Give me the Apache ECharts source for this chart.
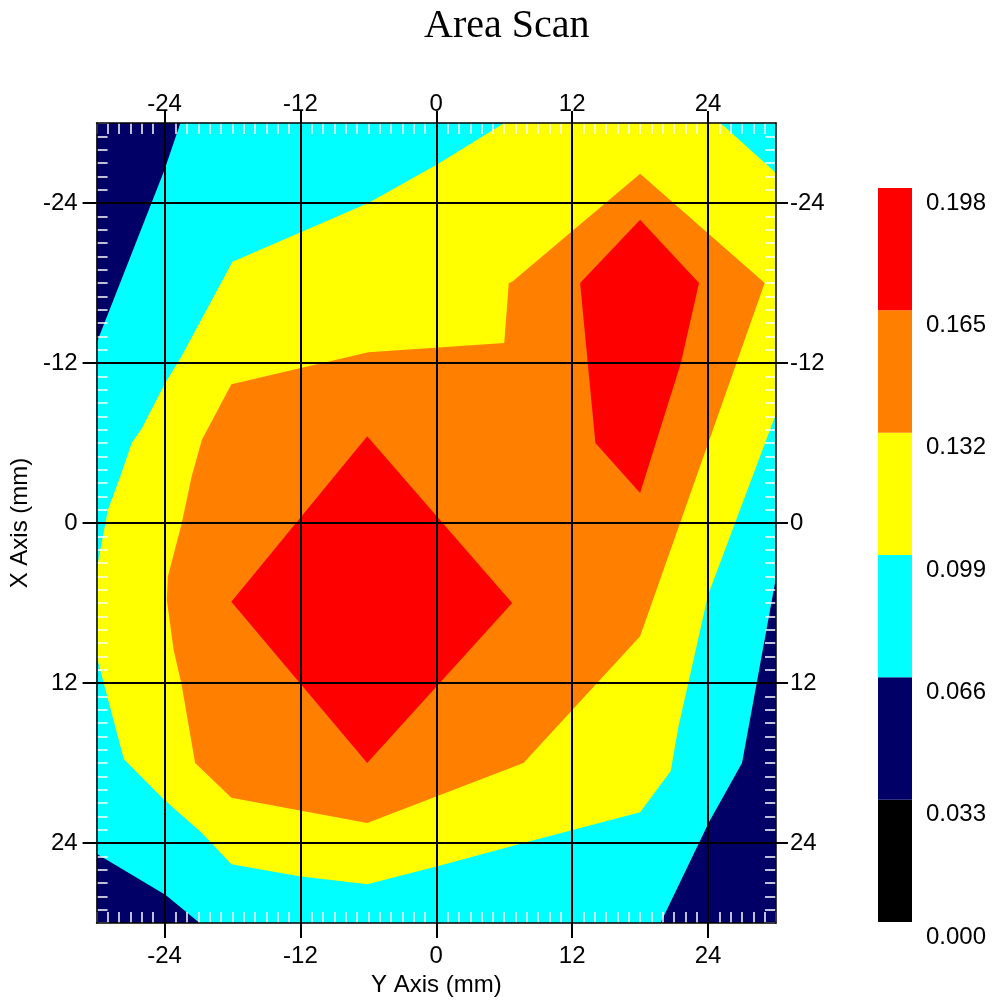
<!DOCTYPE html>
<html>
<head>
<meta charset="utf-8">
<script src="https://cdn.jsdelivr.net/npm/echarts@6/dist/echarts.min.js"></script>
<style>
html,body{margin:0;padding:0;background:#fff;}
#chart{width:995px;height:1005px;}
</style>
</head>
<body>
<div id="chart"></div>
<script>
// ---- data (mm, horizontal = Y axis, vertical = X axis) ----
const levels = [0, 0.033, 0.066, 0.099, 0.132, 0.165, 0.198];
const levelColors = ['#000000', '#000066', '#00ffff', '#ffff00', '#ff8000', '#ff0000'];
const axisTickValues = [-24, -12, 0, 12, 24];

// contour band boundaries, [Y mm, X mm]
const band033 = [[-30, -30], [30, -30], [30, 30], [-30, 30]];
const band066 = [[-22.6, -30], [30, -30], [30, 4.1], [27.0, 18.0], [24.1, 22.4], [19.8, 30],
  [-20.9, 30], [-23.9, 27.9], [-30, 24.8], [-30, -13.5], [-24.0, -26.5]];
const band099 = [[6.0, -30], [25.1, -30], [30, -26.25], [30, -8.2], [24.0, 5.4], [22.2, 12.2],
  [21.4, 15.2], [20.7, 18.6], [18.0, 21.7], [8.1, 23.9], [0.1, 25.75], [-6.1, 27.1], [-12.1, 26.5],
  [-18.1, 25.6], [-20.7, 23.25], [-24.1, 20.7], [-27.6, 17.7], [-30, 10.0], [-30, 3.5], [-29.0, -1.0],
  [-27.9, -3.5], [-26.9, -6.0], [-26.0, -7.1], [-24.0, -10.4], [-22.5, -12.5], [-18.0, -19.6],
  [-6.0, -24.0], [0.1, -26.9]];
const band132 = [[18.0, -26.2], [29.0, -18.0], [18.0, 8.5], [7.7, 18.0], [-6.1, 22.5], [-18.1, 20.6],
  [-21.3, 18.0], [-22.5, 12.1], [-23.2, 9.5], [-23.8, 5.75], [-23.7, 4.0], [-22.5, 0.1], [-21.6, -3.5],
  [-20.7, -6.25], [-18.1, -10.4], [-6.0, -12.8], [6.0, -13.5], [6.4, -18.0], [6.7, -18.1]];
const band165a = [[-6.1, -6.5], [6.7, 6.0], [-6.1, 18.0], [-18.1, 5.9]];
const band165b = [[18.0, -22.75], [23.2, -18.0], [21.6, -12.0], [18.0, -2.25], [14.05, -6.0], [12.7, -18.0]];

const contourRegions = [
  { band: 1, pts: band033 },
  { band: 2, pts: band066 },
  { band: 3, pts: band099 },
  { band: 4, pts: band132 },
  { band: 5, pts: band165a },
  { band: 5, pts: band165b }
];

const FONT = 'Liberation Sans';
const labelStyle = { fontFamily: FONT, fontSize: 24, color: '#000' };

function majorAxis(pos, extra) {
  return Object.assign({
    type: 'value', gridIndex: 0, position: pos, min: -30, max: 30, z: 12,
    axisLine: { show: true, onZero: false, lineStyle: { color: '#000', width: 1.5 } },
    axisTick: { show: true, inside: false, length: 13, customValues: axisTickValues, lineStyle: { color: '#000', width: 2 } },
    axisLabel: Object.assign({ show: true, customValues: axisTickValues }, labelStyle),
    splitLine: { show: false }
  }, extra);
}
function minorAxis(pos, extra) {
  return Object.assign({
    type: 'value', gridIndex: 0, position: pos, min: -30, max: 30, interval: 1, z: 11,
    axisLine: { show: false, onZero: false },
    axisTick: { show: true, inside: true, length: 11, lineStyle: { color: 'rgba(255,255,255,0.75)', width: 2 } },
    axisLabel: { show: false },
    splitLine: { show: false }
  }, extra);
}

const option = {
  animation: false,
  backgroundColor: '#fff',
  title: {
    text: 'Area Scan', left: 419, top: 1,
    textStyle: { fontFamily: 'Liberation Serif', fontSize: 40, fontWeight: 'normal', color: '#000' }
  },
  grid: [
    { left: 95, top: 123, width: 681, height: 800, show: false },
    { left: 878, top: 188, width: 34, height: 734, show: false }
  ],
  xAxis: [
    majorAxis('bottom', {
      name: 'Y Axis (mm)', nameLocation: 'middle', nameGap: 50,
      nameTextStyle: labelStyle,
      axisLabel: Object.assign({ show: true, customValues: axisTickValues, margin: 21 }, labelStyle),
      axisTick: { show: true, inside: false, length: 15, customValues: axisTickValues, lineStyle: { color: '#000', width: 2 } },
      splitLine: { show: true, lineStyle: { color: '#000', width: 2 } }
    }),
    majorAxis('top', {
      axisLabel: Object.assign({ show: true, customValues: axisTickValues, margin: 7 }, labelStyle),
      axisTick: { show: true, inside: false, length: 12, customValues: axisTickValues, lineStyle: { color: '#000', width: 2 } }
    }),
    minorAxis('bottom'),
    minorAxis('top'),
    { type: 'value', gridIndex: 1, min: 0, max: 1, show: false }
  ],
  yAxis: [
    majorAxis('left', {
      inverse: true,
      name: 'X Axis (mm)', nameLocation: 'middle', nameGap: 58,
      nameTextStyle: labelStyle,
      axisLabel: Object.assign({ show: true, customValues: axisTickValues, margin: 19 }, labelStyle),
      axisTick: { show: true, inside: false, length: 14, customValues: axisTickValues, lineStyle: { color: '#000', width: 2 } },
      splitLine: { show: true, lineStyle: { color: '#000', width: 2 } }
    }),
    majorAxis('right', {
      inverse: true,
      axisLabel: Object.assign({ show: true, customValues: axisTickValues, margin: 14 }, labelStyle),
      axisTick: { show: true, inside: false, length: 12, customValues: axisTickValues, lineStyle: { color: '#000', width: 2 } }
    }),
    minorAxis('left', { inverse: true }),
    minorAxis('right', { inverse: true }),
    {
      type: 'value', gridIndex: 1, position: 'right', min: levels[0], max: levels[levels.length - 1], interval: 0.033,
      axisLine: { show: false, onZero: false }, axisTick: { show: false }, splitLine: { show: false },
      axisLabel: Object.assign({
        margin: 14, verticalAlign: 'top', lineHeight: 30,
        formatter: v => v.toFixed(3)
      }, labelStyle)
    }
  ],
  series: [
    {
      type: 'custom', name: 'contours', xAxisIndex: 0, yAxisIndex: 0, z: 2, clip: true,
      data: contourRegions.map((r, i) => [0, 0]),
      renderItem: function (params, api) {
        const r = contourRegions[params.dataIndex];
        return {
          type: 'polygon',
          shape: { points: r.pts.map(p => api.coord(p)) },
          style: { fill: levelColors[r.band], stroke: null }
        };
      }
    },
    {
      type: 'custom', name: 'colorbar', xAxisIndex: 4, yAxisIndex: 4, z: 2,
      data: levelColors.map((c, i) => [0, levels[i]]),
      renderItem: function (params, api) {
        const i = params.dataIndex;
        const p0 = api.coord([0, levels[i]]);
        const p1 = api.coord([1, levels[i + 1]]);
        return {
          type: 'rect',
          shape: { x: p0[0], y: p1[1], width: p1[0] - p0[0], height: p0[1] - p1[1] },
          style: { fill: levelColors[i] }
        };
      }
    }
  ]
};

const chart = echarts.init(document.getElementById('chart'), null, { renderer: 'canvas' });
chart.setOption(option);
</script>
</body>
</html>
